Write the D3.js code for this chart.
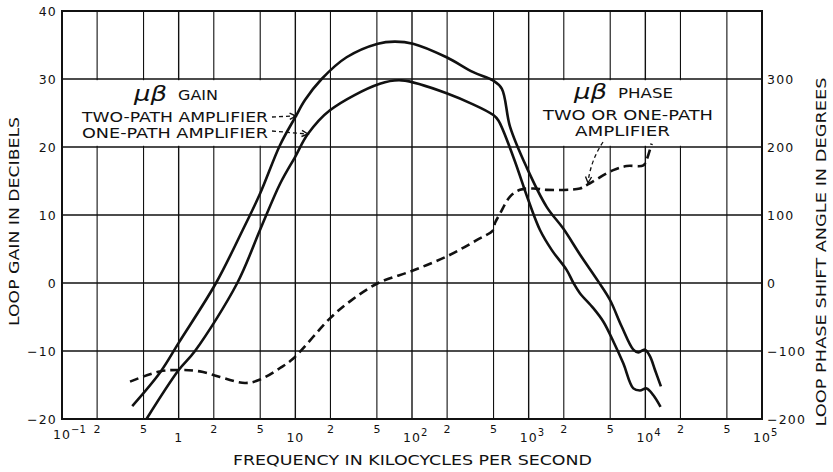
<!DOCTYPE html>
<html><head><meta charset="utf-8">
<script src="https://cdn.jsdelivr.net/npm/d3@7"></script>
<style>
html,body{margin:0;padding:0;background:#fff;}
svg{display:block;}
text{font-family:"DejaVu Sans",sans-serif;fill:#111;}
</style></head>
<body>
<svg id="c" width="833" height="472"></svg>
<script>
// ---- data ----
const twoPathFreq = [0.40, 0.69, 1.0, 2.09, 3.54, 5.0, 7.4, 10, 12.1, 16.8, 27.5, 51, 71, 102, 198, 335, 494, 588, 692, 961, 1426, 1980, 2750, 3960, 4980, 6270, 7890, 8710, 9930, 10970, 12100, 13600];
const twoPathGain = [-18.1, -13.2, -8.8, 0, 7.8, 13.2, 20.3, 24.4, 26.9, 30, 33.2, 35.2, 35.5, 35.2, 33.2, 31.0, 29.8, 28.6, 23.0, 17.0, 11.2, 8.0, 4.2, 0.2, -2.5, -6.4, -9.8, -10.2, -9.8, -10.8, -12.8, -15.2];

const onePathFreq = [0.53, 1.0, 1.38, 3.18, 4.98, 7.4, 10, 12.8, 19.8, 53, 81.5, 198, 498, 550, 740, 993, 1250, 1585, 2120, 2420, 2750, 3580, 4370, 5320, 6470, 7890, 8990, 10250, 11720, 13500];
const onePathGain = [-20, -12.8, -10, 0, 7.8, 14.6, 18.6, 21.9, 25.4, 29.3, 29.8, 27.9, 24.7, 23.9, 18.5, 12.2, 7.8, 4.8, 1.9, 0, -1.5, -3.7, -5.7, -8.6, -11.8, -15.5, -15.8, -15.5, -16.5, -18.2];

const phaseFreq = [0.383, 0.69, 1.03, 1.52, 3.7, 4.98, 7.4, 9.6, 19.8, 29.4, 51.4, 100.7, 198, 358, 498, 514, 568, 692, 843, 1100, 1426, 2750, 3140, 5310, 6920, 9620, 10250, 11320];
const phaseDeg = [-145, -130, -128, -130, -147, -142, -125, -111, -52, -27, 0, 18, 39, 63, 78, 88, 102, 127, 137, 139, 137, 139, 144, 166, 172, 173, 181, 205];

const gainTicks = [-20, -10, 0, 10, 20, 30, 40];
const phaseTicks = [-200, -100, 0, 100, 200, 300];
const decadeExps = [-1, 0, 1, 2, 3, 4, 5];
const minorMult = [2, 5];

const gainLegend = ["TWO-PATH AMPLIFIER", "ONE-PATH AMPLIFIER"];
const phaseLegend = ["TWO OR ONE-PATH", "AMPLIFIER"];

// ---- scales ----
const L = 62, R = 762, T = 11, B = 419;
const x = d3.scaleLog().domain([0.1, 1e5]).range([L, R]);
const yG = d3.scaleLinear().domain([-20, 40]).range([B, T]);
const yP = d3.scaleLinear().domain([-200, 400]).range([B, T]);

const svg = d3.select("#c");
const ink = "#111";

// ---- grid ----
const gridX = [];
decadeExps.forEach(e => {
  if (e < 5) [1, 2, 5].forEach(m => gridX.push({v: m * Math.pow(10, e), dec: m === 1}));
  else gridX.push({v: 1e5, dec: true});
});
const grid = svg.append("g");
grid.selectAll("line.v").data(gridX).join("line")
  .attr("x1", d => x(d.v)).attr("x2", d => x(d.v))
  .attr("y1", T).attr("y2", B)
  .attr("stroke", ink).attr("stroke-width", d => d.dec ? 1.4 : 1.1);
grid.selectAll("line.h").data(gainTicks).join("line")
  .attr("x1", L).attr("x2", R)
  .attr("y1", d => yG(d)).attr("y2", d => yG(d))
  .attr("stroke", ink).attr("stroke-width", 1.3);

// legend white boxes (hide grid cells)
svg.append("rect").attr("x", x(0.1) + 1).attr("y", yG(30) + 1.2)
  .attr("width", x(10) - x(0.1) - 2.5).attr("height", yG(20) - yG(30) - 2.4).attr("fill", "#fff");
svg.append("rect").attr("x", x(1000) + 1.2).attr("y", yP(300) + 1.2)
  .attr("width", x(5e4) - x(1000) - 2.4).attr("height", yP(200) - yP(300) - 2.4).attr("fill", "#fff");

// frame
svg.append("rect").attr("x", L).attr("y", T).attr("width", R - L).attr("height", B - T)
  .attr("fill", "none").attr("stroke", ink).attr("stroke-width", 2);

// ---- curves ----
const zip = (a, b) => a.map((v, i) => [v, b[i]]);
const cv = d3.curveCatmullRom.alpha(0.5);
const lineG = d3.line().x(d => x(d[0])).y(d => yG(d[1])).curve(cv);
const lineP = d3.line().x(d => x(d[0])).y(d => yP(d[1])).curve(cv);

svg.append("path").attr("d", lineG(zip(twoPathFreq, twoPathGain)))
  .attr("fill", "none").attr("stroke", ink).attr("stroke-width", 2.6).attr("stroke-linejoin", "round");
svg.append("path").attr("d", lineG(zip(onePathFreq, onePathGain)))
  .attr("fill", "none").attr("stroke", ink).attr("stroke-width", 2.6).attr("stroke-linejoin", "round");
svg.append("path").attr("d", lineP(zip(phaseFreq, phaseDeg)))
  .attr("fill", "none").attr("stroke", ink).attr("stroke-width", 2.6)
  .attr("stroke-dasharray", "9,5");

// ---- axis labels ----
const numFont = 12.5;
svg.append("g").selectAll("text").data(gainTicks).join("text")
  .attr("x", L - 5).attr("y", d => yG(d)).attr("dy", "0.36em")
  .attr("text-anchor", "end").attr("font-size", numFont).attr("letter-spacing", 1.2)
  .text(d => d < 0 ? "\u2212" + Math.abs(d) : d);
svg.append("g").selectAll("text").data(phaseTicks).join("text")
  .attr("x", R + 5).attr("y", d => yP(d)).attr("dy", "0.36em")
  .attr("text-anchor", "start").attr("font-size", numFont).attr("letter-spacing", 1.2)
  .text(d => d < 0 ? "\u2212" + Math.abs(d) : d);

// bottom decade labels
const bot = svg.append("g");
decadeExps.forEach(e => {
  const px = x(Math.pow(10, e));
  if (e === 0 || e === 1) {
    bot.append("text").attr("x", px).attr("y", 442).attr("text-anchor", "middle")
      .attr("font-size", numFont).attr("letter-spacing", 1).text(e === 0 ? "1" : "10");
  } else {
    bot.append("text").attr("x", px).attr("y", e === -1 ? 439 : 442).attr("text-anchor", "middle")
      .attr("font-size", numFont).attr("letter-spacing", 1).text("10");
    bot.append("text").attr("x", px + 9).attr("y", e === -1 ? 433 : 436).attr("text-anchor", "start")
      .attr("font-size", 10).text(e < 0 ? "\u2212" + Math.abs(e) : e);
  }
  if (e < 5) minorMult.forEach(m => {
    bot.append("text").attr("x", x(m * Math.pow(10, e))).attr("y", 433).attr("text-anchor", "middle")
      .attr("font-size", 11).text(m);
  });
});

// axis titles
svg.append("text").attr("x", 233).attr("y", 465).attr("font-size", 14)
  .attr("textLength", 359).attr("lengthAdjust", "spacingAndGlyphs")
  .text("FREQUENCY IN KILOCYCLES PER SECOND");
svg.append("text").attr("transform", "translate(19,221.5) rotate(-90)").attr("text-anchor", "middle")
  .attr("font-size", 14).attr("textLength", 209).attr("lengthAdjust", "spacingAndGlyphs")
  .text("LOOP GAIN IN DECIBELS");
svg.append("text").attr("transform", "translate(826,252) rotate(-90)").attr("text-anchor", "middle")
  .attr("font-size", 14).attr("textLength", 349).attr("lengthAdjust", "spacingAndGlyphs")
  .text("LOOP PHASE SHIFT ANGLE IN DEGREES");

// ---- legends ----
function muBeta(xp, yp, word, wordX, wordLen) {
  svg.append("text").attr("x", xp).attr("y", yp + 1).attr("font-size", 21)
    .attr("font-style", "italic").attr("font-family", "DejaVu Serif")
    .attr("textLength", 33).attr("lengthAdjust", "spacingAndGlyphs").text("\u03BC\u03B2");
  svg.append("text").attr("x", wordX).attr("y", yp).attr("font-size", 14.5)
    .attr("textLength", wordLen).attr("lengthAdjust", "spacingAndGlyphs").text(word);
}
muBeta(134, 100, "GAIN", 178, 40);
svg.append("text").attr("x", 82).attr("y", 122).attr("font-size", 14)
  .attr("textLength", 186).attr("lengthAdjust", "spacingAndGlyphs").text(gainLegend[0]);
svg.append("text").attr("x", 82).attr("y", 138).attr("font-size", 14)
  .attr("textLength", 186).attr("lengthAdjust", "spacingAndGlyphs").text(gainLegend[1]);

muBeta(574, 98, "PHASE", 618, 55);
svg.append("text").attr("x", 543).attr("y", 120).attr("font-size", 14)
  .attr("textLength", 170).attr("lengthAdjust", "spacingAndGlyphs").text(phaseLegend[0]);
svg.append("text").attr("x", 575).attr("y", 136).attr("font-size", 14)
  .attr("textLength", 95).attr("lengthAdjust", "spacingAndGlyphs").text(phaseLegend[1]);

// arrows
function arrow(d, tip, ang) {
  svg.append("path").attr("d", d).attr("fill", "none").attr("stroke", ink)
    .attr("stroke-width", 1.3).attr("stroke-dasharray", "4,3");
  const a = ang * Math.PI / 180, s = 7, w = 0.45;
  const p1 = [tip[0] - s * Math.cos(a - w), tip[1] - s * Math.sin(a - w)];
  const p2 = [tip[0] - s * Math.cos(a + w), tip[1] - s * Math.sin(a + w)];
  svg.append("path").attr("d", `M${p1}L${tip}L${p2}`).attr("fill", "none")
    .attr("stroke", ink).attr("stroke-width", 1.4);
}
arrow("M272,117 L295,116", [296, 116], -2);
arrow("M272,131 L307,134", [308, 134], 5);
arrow("M603,142 Q591,160 588,182", [588, 183], 95);
</script>
</body></html>
